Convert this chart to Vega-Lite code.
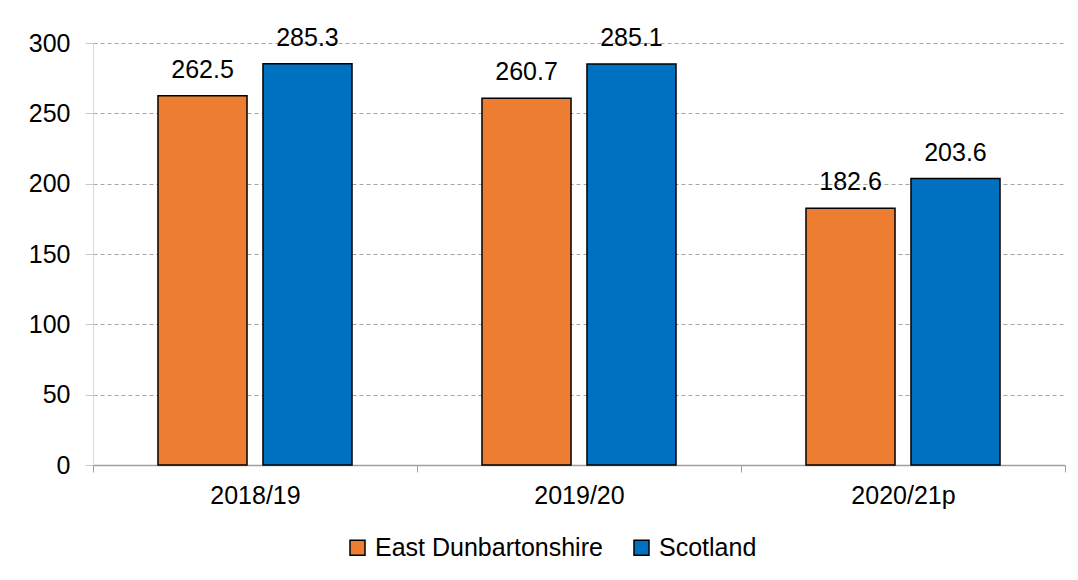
{
  "$schema": "https://vega.github.io/schema/vega-lite/v6.json",
  "width": 972,
  "height": 422,
  "autosize": {"type": "none"},
  "padding": {"left": 93, "top": 43, "right": 13, "bottom": 115},
  "background": "white",
  "data": {
    "values": [
      {"year": "2018/19", "area": "East Dunbartonshire", "value": 262.5},
      {"year": "2018/19", "area": "Scotland", "value": 285.3},
      {"year": "2019/20", "area": "East Dunbartonshire", "value": 260.7},
      {"year": "2019/20", "area": "Scotland", "value": 285.1},
      {"year": "2020/21p", "area": "East Dunbartonshire", "value": 182.6},
      {"year": "2020/21p", "area": "Scotland", "value": 203.6}
    ]
  },
  "encoding": {
    "x": {
      "field": "year", "type": "nominal", "sort": null,
      "scale": {"paddingInner": 0, "paddingOuter": 0},
      "axis": {
        "title": null, "labelAngle": 0, "labelFontSize": 25, "labelColor": "#000000",
        "labelPadding": 11, "tickBand": "extent", "tickSize": 7,
        "domainColor": "#a0a0a0", "tickColor": "#a0a0a0", "domainWidth": 1.5
      }
    },
    "xOffset": {
      "field": "area", "type": "nominal", "sort": ["East Dunbartonshire", "Scotland"],
      "scale": {"paddingInner": 0.152, "paddingOuter": 0.619}
    },
    "y": {
      "field": "value", "type": "quantitative",
      "scale": {"domain": [0, 300], "nice": false},
      "axis": {
        "title": null, "values": [0, 50, 100, 150, 200, 250, 300],
        "labelFontSize": 25, "labelColor": "#000000", "labelPadding": 15,
        "tickSize": 8, "tickColor": "#c8c8c8", "domainColor": "#d9d9d9",
        "grid": true, "gridColor": "#a6a6a6", "gridDash": [4, 3], "gridWidth": 1.2
      }
    }
  },
  "layer": [
    {
      "mark": {"type": "bar", "stroke": "#000000", "strokeWidth": 1.5},
      "encoding": {
        "color": {
          "field": "area", "type": "nominal",
          "scale": {"domain": ["East Dunbartonshire", "Scotland"], "range": ["#ED7D31", "#0070C0"]},
          "legend": {
            "title": null, "orient": "none", "direction": "horizontal",
            "legendX": 252, "legendY": 492,
            "symbolType": "square", "symbolSize": 225,
            "symbolStrokeColor": "#000000", "symbolStrokeWidth": 1.5,
            "symbolOpacity": 1, "labelLimit": 500,
            "labelFontSize": 25, "labelColor": "#000000", "labelOffset": 5,
            "columnPadding": 26
          }
        }
      }
    },
    {
      "mark": {"type": "text", "baseline": "alphabetic", "dy": -18, "fontSize": 25, "color": "#000000"},
      "encoding": {"text": {"field": "value", "type": "quantitative", "format": ".1f"}}
    }
  ],
  "config": {
    "font": "Liberation Sans",
    "view": {"stroke": null}
  }
}
